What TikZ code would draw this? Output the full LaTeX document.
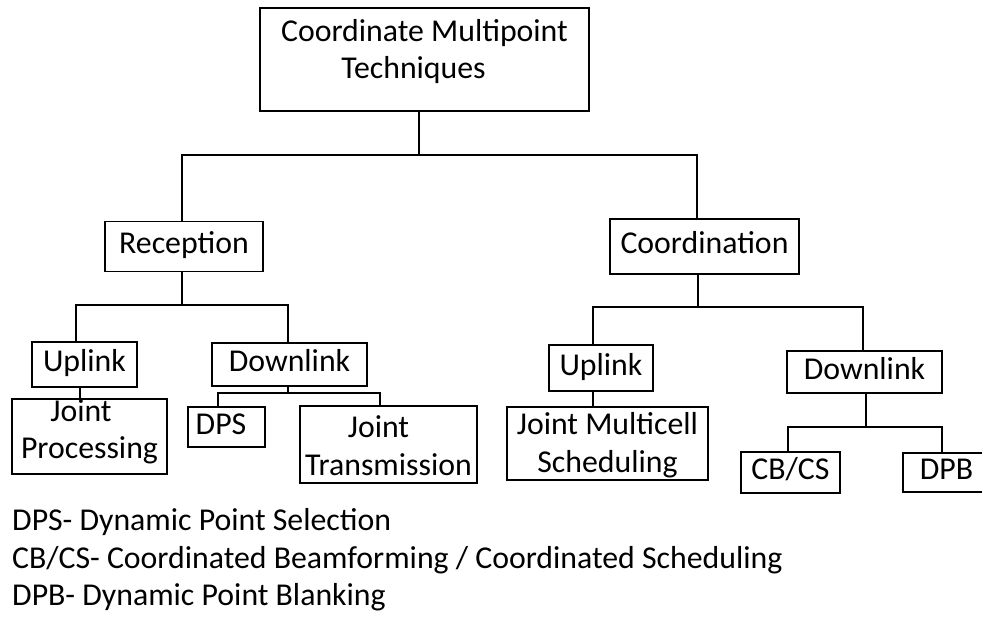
\documentclass[tikz,border=0pt]{standalone}
\usepackage{fontspec}
\setmainfont{Carlito}
\begin{document}
\begin{tikzpicture}[x=1pt,y=-1pt,
  box/.style={draw, line width=1.6pt, rectangle, inner sep=0pt, align=center,
    font=\fontsize{31.8}{37.5}\selectfont, text height=20pt, text depth=6pt},
  link/.style={line width=1.6pt},
  legend/.style={anchor=base west, inner sep=0pt, font=\fontsize{31.8}{37.5}\selectfont}]
\useasboundingbox (0,0) rectangle (982,617);

% boxes
\node[box, minimum width=329pt, minimum height=103pt, text height=45pt] (top) at (424.5,59.5)
  {Coordinate Multipoint\\Techniques\rule{22pt}{0pt}};
\node[box, minimum width=158pt, minimum height=50pt] (rec) at (184,246.5) {Reception};
\node[box, minimum width=189pt, minimum height=55pt] (coo) at (704.5,246.5) {Coordination};

\node[box, minimum width=105pt, minimum height=45pt] (up1) at (84.5,364.5) {Uplink};
\node[box, minimum width=155pt, minimum height=43pt] (dn1) at (289.5,364.5) {Downlink};
\node[box, minimum width=155pt, minimum height=75pt, text height=50pt] (jp) at (89.5,436.5)
  {Joint\rule{17pt}{0pt}\\Processing};
\node[box, minimum width=77pt, minimum height=40pt] (dps) at (226.5,427) {DPS\rule{11pt}{0pt}};
\node[box, minimum width=177pt, minimum height=77pt, text height=67pt] (jt) at (388.5,444.5)
  {Joint\rule{20pt}{0pt}\\Transmission};

\node[box, minimum width=104pt, minimum height=46pt] (up2) at (601,368) {Uplink};
\node[box, minimum width=155pt, minimum height=42pt] (dn2) at (864.5,372) {Downlink};
\node[box, minimum width=201pt, minimum height=73pt, text height=63pt] (jms) at (607.5,443.5)
  {Joint Multicell\\Scheduling};
\node[box, minimum width=99pt, minimum height=41pt] (cbcs) at (790.5,472.5) {CB/CS};
\node[box, minimum width=87pt, minimum height=39pt] (dpb) at (946.5,472.5) {DPB};

% junction points of the tree
\coordinate (j0) at (419,155);
\coordinate (j1) at (182,305);
\coordinate (j2) at (288,393);
\coordinate (j3) at (698,307);
\coordinate (j4) at (866,427);

% connectors
\draw[link] (top.south -| j0) -- (j0);
\draw[link] (j0) -| ([xshift=-2]rec.north);
\draw[link] (j0) -| ([xshift=-7.5]coo.north);

\draw[link] (rec.south -| j1) -- (j1);
\draw[link] (j1) -| ([xshift=-8.5]up1.north);
\draw[link] (j1) -| ([xshift=-1.5]dn1.north);
\draw[link] ([xshift=-4.5]up1.south) -- ([xshift=-4.5]up1.south |- jp.north);

\draw[link] (dn1.south -| j2) -- (j2);
\draw[link] (j2) -| ([xshift=-8.5]dps.north);
\draw[link] (j2) -| ([xshift=-8.5]jt.north);

\draw[link] (coo.south -| j3) -- (j3);
\draw[link] (j3) -| ([xshift=-8]up2.north);
\draw[link] (j3) -| ([xshift=-1.5]dn2.north);
\draw[link] ([xshift=-8]up2.south) -- ([xshift=-8]up2.south |- jms.north);

\draw[link] (dn2.south -| j4) -- (j4);
\draw[link] (j4) -| ([xshift=-2.5]cbcs.north);
\draw[link] (j4) -| ([xshift=-4.5]dpb.north);

% abbreviations
\node[legend] (l1) at (12,530) {DPS- Dynamic Point Selection};
\node[legend] (l2) at (12,568) {CB/CS- Coordinated Beamforming / Coordinated Scheduling};
\node[legend] (l3) at (12,605) {DPB- Dynamic Point Blanking};
\end{tikzpicture}
\end{document}
